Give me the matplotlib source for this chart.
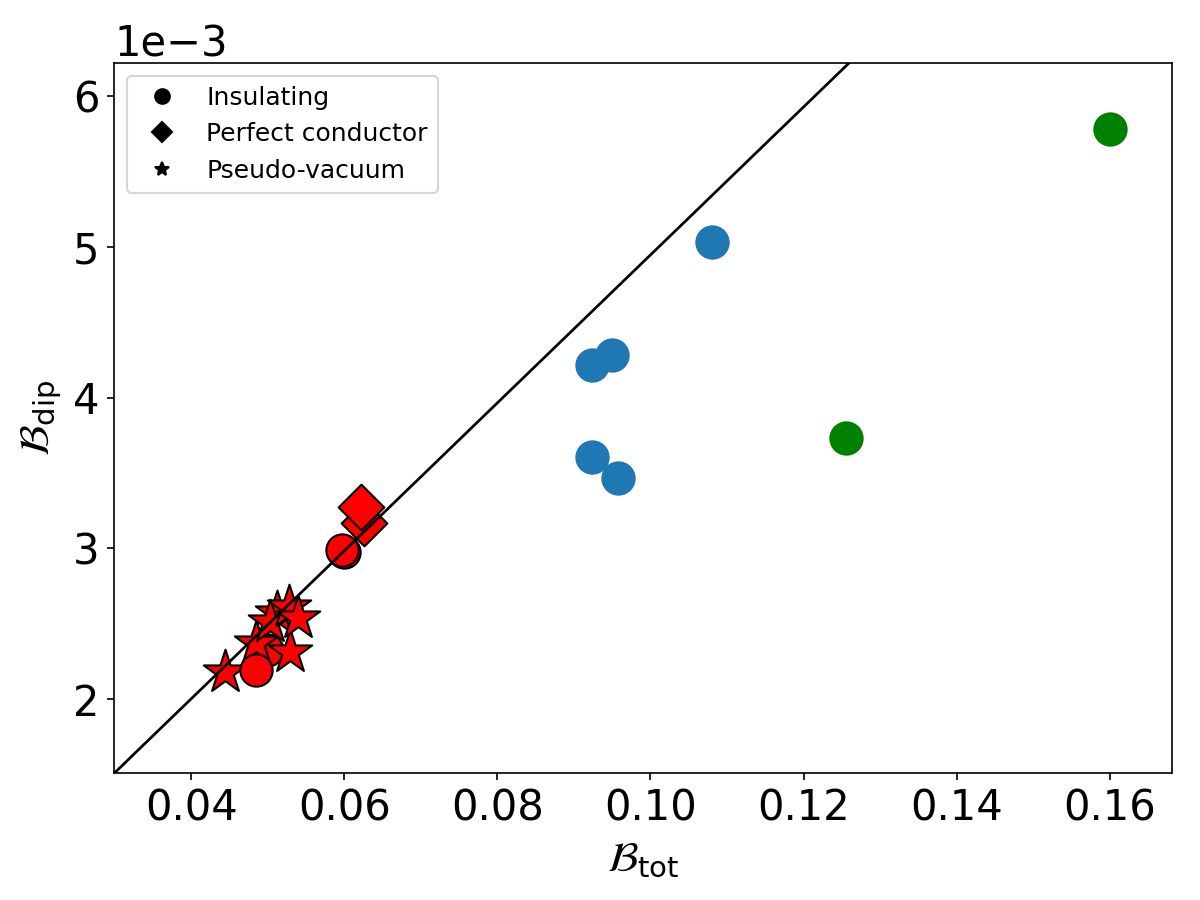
import numpy as np
import matplotlib
matplotlib.use('Agg')
import matplotlib.pyplot as plt
from matplotlib.lines import Line2D

# blue runs (insulating)
blue_x = [0.1080, 0.0923, 0.0950, 0.0923, 0.0957]
blue_y = [5.032e-3, 4.216e-3, 4.282e-3, 3.605e-3, 3.466e-3]

# green runs (insulating)
green_x = [0.1601, 0.1255]
green_y = [5.781e-3, 3.731e-3]

# red runs
red_circ_x = [0.0599, 0.0597, 0.0499, 0.0485]
red_circ_y = [2.975e-3, 2.988e-3, 2.325e-3, 2.192e-3]
red_diam_x = [0.0626, 0.0622]
red_diam_y = [3.168e-3, 3.274e-3]
red_star_x = [0.0512, 0.0444, 0.0484, 0.0529, 0.0503, 0.0528, 0.0539]
red_star_y = [2.570e-3, 2.179e-3, 2.372e-3, 2.312e-3, 2.511e-3, 2.610e-3, 2.537e-3]

# reference line
slope = 0.04906
intercept = 0.04e-3

fig, ax = plt.subplots(figsize=(8, 6), dpi=150)
fig.subplots_adjust(left=0.095, right=0.977, top=0.93, bottom=0.141)

ax.scatter(blue_x, blue_y, s=240, color='C0', zorder=2)
ax.scatter(green_x, green_y, s=240, color='green', zorder=2)
ax.scatter(red_diam_x, red_diam_y, s=240, marker='D', color='red', edgecolor='k', linewidth=1, zorder=2)
ax.scatter(red_circ_x[:3], red_circ_y[:3], s=240, color='red', edgecolor='k', linewidth=1, zorder=2)
ax.scatter(red_star_x, red_star_y, s=480, marker='*', color='red', edgecolor='k', linewidth=1, zorder=2)
ax.scatter(red_circ_x[3:], red_circ_y[3:], s=240, color='red', edgecolor='k', linewidth=1, zorder=2)

xx = np.array([0.0, 0.2])
ax.plot(xx, slope * xx + intercept, color='k', lw=1.3, zorder=3)

ax.set_xlim(0.0299, 0.1682)
ax.set_ylim(1.509e-3, 6.219e-3)
ax.ticklabel_format(axis='y', style='sci', scilimits=(0, 0))
ax.tick_params(labelsize=20)
ax.yaxis.get_offset_text().set_fontsize(20)
ax.set_xlabel(r'$\mathcal{B}_{\rm tot}$', fontsize=20)
ax.set_ylabel(r'$\mathcal{B}_{\rm dip}$', fontsize=20)

handles = [
    Line2D([], [], marker='o', color='k', ls='', markersize=7, label='Insulating'),
    Line2D([], [], marker='D', color='k', ls='', markersize=7, label='Perfect conductor'),
    Line2D([], [], marker='*', color='k', ls='', markersize=7, label='Pseudo-vacuum'),
]
ax.legend(handles=handles, loc='upper left', fontsize=12)

plt.savefig('out.png')
